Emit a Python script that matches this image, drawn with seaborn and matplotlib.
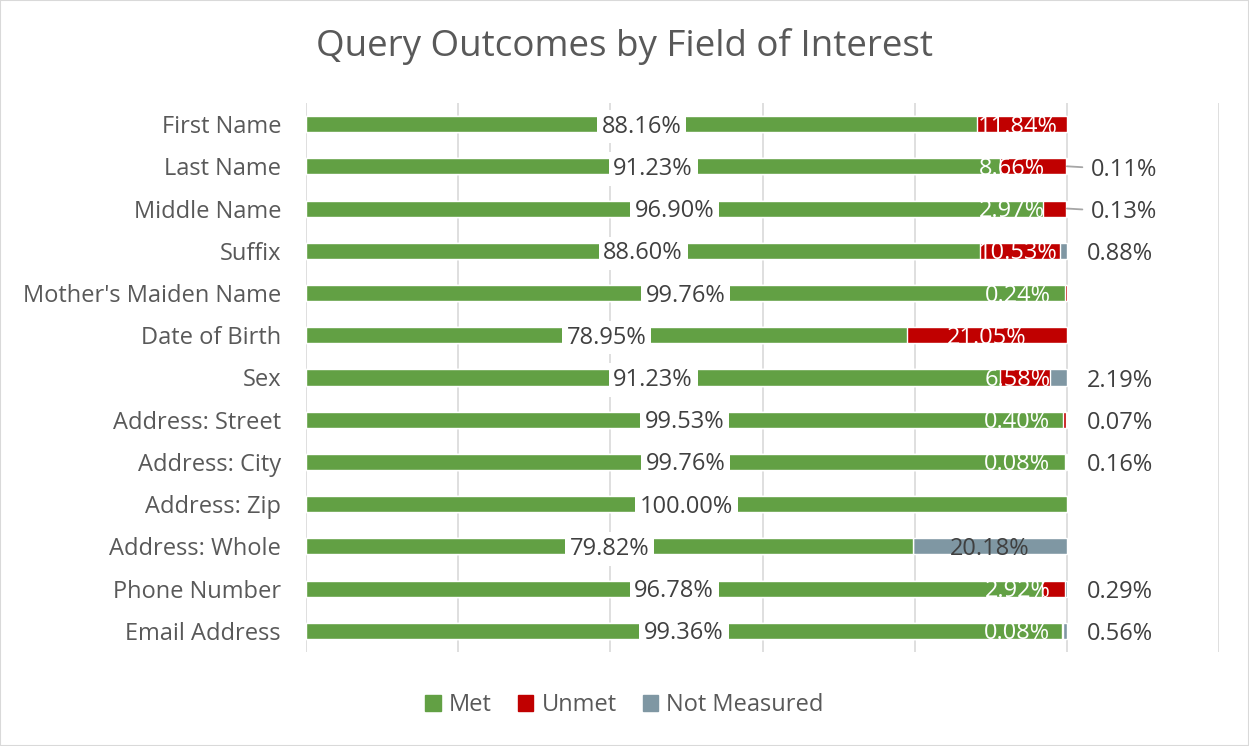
import matplotlib
matplotlib.use("Agg")
import matplotlib.pyplot as plt
import seaborn as sns
import numpy as np
from matplotlib.patches import Rectangle, Patch

fields = ["First Name", "Last Name", "Middle Name", "Suffix", "Mother's Maiden Name",
          "Date of Birth", "Sex", "Address: Street", "Address: City", "Address: Zip",
          "Address: Whole", "Phone Number", "Email Address"]
met = [88.16, 91.23, 96.90, 88.60, 99.76, 78.95, 91.23, 99.53, 99.76, 100.00, 79.82, 96.78, 99.36]
unmet = [11.84, 8.66, 2.97, 10.53, 0.24, 21.05, 6.58, 0.40, 0.08, 0.00, 0.00, 2.92, 0.08]
not_measured = [0.00, 0.11, 0.13, 0.88, 0.00, 0.00, 2.19, 0.07, 0.16, 0.00, 20.18, 0.29, 0.56]
leader_rows = ["Last Name", "Middle Name"]

GREEN = "#62A044"
RED = "#C00000"
GREY = "#7F97A3"
TXT = "#404040"

sns.set_theme(style="white")
plt.rcParams["font.family"] = ["Open Sans", "DejaVu Sans"]

fig = plt.figure(figsize=(12.49, 7.46), dpi=100)
ax = fig.add_axes([0.245, 0.126, 0.731, 0.736])
fig.patches.append(Rectangle((0, 0), 1, 1, transform=fig.transFigure, fill=False,
                             edgecolor="#D9D9D9", linewidth=1.5))

met_a = np.array(met)
unmet_a = np.array(unmet)
nm_a = np.array(not_measured)

# stacked bars: draw cumulative totals back to front
sns.barplot(x=met_a + unmet_a + nm_a, y=fields, color=GREY, width=0.38, ax=ax,
            saturation=1, orient="h")
sns.barplot(x=met_a + unmet_a, y=fields, color=RED, width=0.38, ax=ax,
            saturation=1, orient="h")
sns.barplot(x=met_a, y=fields, color=GREEN, width=0.38, ax=ax,
            saturation=1, orient="h")

for v in range(0, 121, 20):
    ax.axvline(v, color="#D9D9D9", lw=1.2, zorder=0)

fs = 17
for i, name in enumerate(fields):
    m, u, n = met[i], unmet[i], not_measured[i]
    ax.text(m / 2, i + 0.06, f"{m:.2f}%", ha="center", va="center", fontsize=fs, color=TXT,
            bbox=dict(boxstyle="square,pad=0.2", fc="white", ec="none"), zorder=5)
    if u > 0:
        cx = min(m + u / 2, 93.5)
        if name in leader_rows:
            cx = min(cx, 92.8)
        ax.text(cx, i + 0.06, f"{u:.2f}%", ha="center", va="center", fontsize=fs,
                color="white", zorder=5)
    if n > 0:
        if n > 5:
            ax.text(m + u + n / 2, i + 0.06, f"{n:.2f}%", ha="center", va="center",
                    fontsize=fs, color=TXT, zorder=5)
        elif name in leader_rows:
            ax.annotate(f"{n:.2f}%", xy=(100, i), xytext=(103.2, i + 0.08),
                        ha="left", va="center", fontsize=fs, color=TXT,
                        arrowprops=dict(arrowstyle="-", color="#A6A6A6", lw=1.3,
                                        shrinkA=4, shrinkB=0))
        else:
            ax.text(107, i + 0.08, f"{n:.2f}%", ha="center", va="center",
                    fontsize=fs, color=TXT, zorder=5)

ax.set_xlim(0, 120)
ax.set_ylim(12.5, -0.5)
ax.set_xticks([])
ax.set_xlabel("")
ax.set_ylabel("")
ax.tick_params(axis="y", length=0, labelsize=17, labelcolor="#595959", pad=18)
for s in ax.spines.values():
    s.set_visible(False)

fig.text(0.5, 0.937, "Query Outcomes by Field of Interest", ha="center", va="center",
         fontsize=26.5, color="#595959")

handles = [Patch(color=GREEN, label="Met"), Patch(color=RED, label="Unmet"),
           Patch(color=GREY, label="Not Measured")]
fig.legend(handles=handles, loc="center", bbox_to_anchor=(0.5, 0.055), ncol=3,
           frameon=False, fontsize=17, labelcolor="#595959", handlelength=0.65,
           handleheight=0.65, handletextpad=0.35, columnspacing=1.1)

fig.savefig("out.png", dpi=100)
